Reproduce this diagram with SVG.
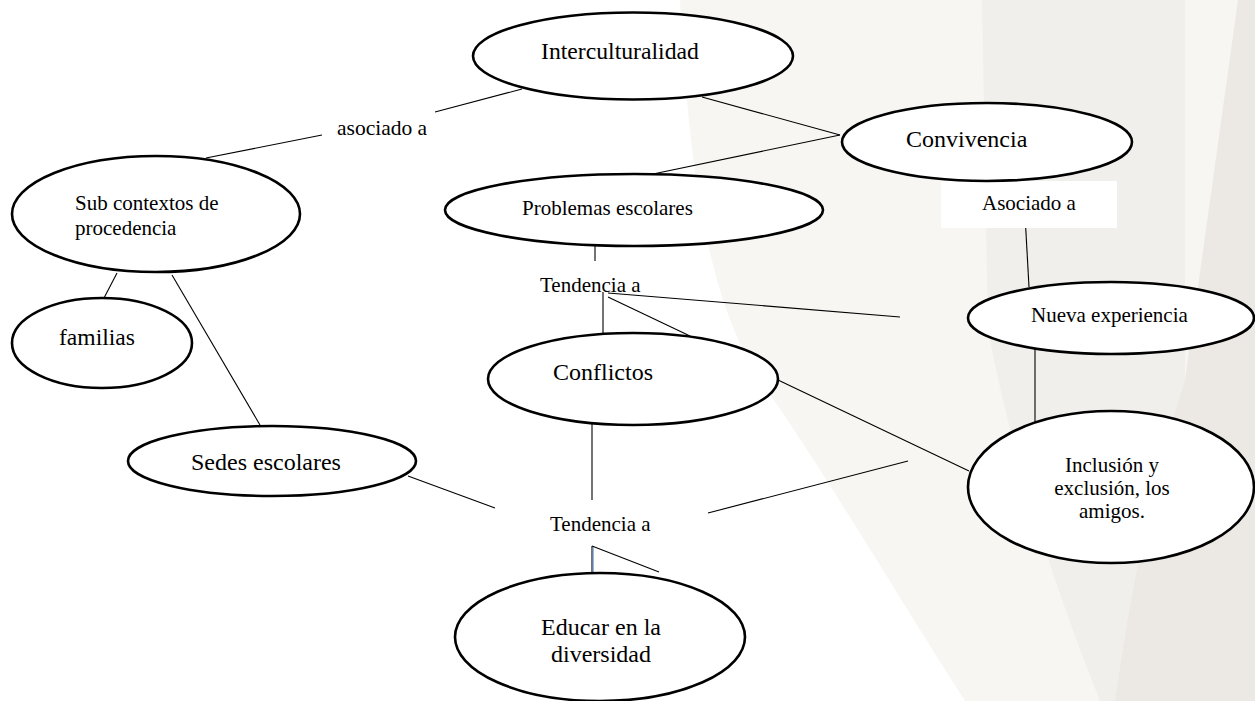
<svg xmlns="http://www.w3.org/2000/svg" width="1255" height="701" viewBox="0 0 1255 701">
<style>
.node ellipse{fill:#fff;stroke:#000;stroke-width:2.6}
text{font-family:'Liberation Serif',serif;fill:#000}
.s21{font-size:21px}
.s24{font-size:24px}
#connectors line{stroke:#000;stroke-width:1.1}
</style>
<g id="background">
<rect x="0" y="0" width="1255" height="701" fill="#ffffff"/>
<path d="M680,0 L1255,0 L1255,701 L965,701 C900,600 830,480 760,380 C715,310 690,200 680,0 Z" fill="#f7f6f3"/>
<path d="M982,0 L1185,0 L1185,380 Q1140,520 1115,701 L1100,701 Q1020,500 988,330 Z" fill="#f1efeb"/>
<path d="M1238,0 L1255,0 L1255,701 L1115,701 Q1140,520 1185,380 Z" fill="#ece9e4"/>
</g>
<g id="connectors">
<line x1="522" y1="89" x2="435" y2="112"/>
<line x1="322" y1="135" x2="206" y2="158"/>
<line x1="117" y1="273" x2="104" y2="298"/>
<line x1="172" y1="275" x2="260" y2="425"/>
<line x1="702" y1="97" x2="840" y2="135"/>
<line x1="840" y1="135" x2="653" y2="174"/>
<line x1="595" y1="246" x2="595" y2="261"/>
<line x1="603" y1="292" x2="603" y2="333"/>
<line x1="608" y1="297" x2="690" y2="336"/>
<line x1="608" y1="293" x2="900" y2="317"/>
<line x1="1025" y1="215" x2="1029" y2="287"/>
<line x1="1035" y1="348" x2="1035" y2="422"/>
<line x1="778" y1="380" x2="969" y2="471"/>
<line x1="592" y1="423" x2="592" y2="500"/>
<line x1="408" y1="476" x2="495" y2="508"/>
<line x1="708" y1="513" x2="908" y2="461"/>
<line x1="592" y1="546" x2="592" y2="573"/>
<line x1="593.2" y1="547" x2="593.2" y2="573" style="stroke:#5b8fd0;stroke-width:0.9"/>
<line x1="592" y1="546" x2="659" y2="572"/>
</g>
<g id="label-asociado">
<text class="s21" x="337" y="135" font-family="Liberation Serif" style="font-size:21.5px">asociado a</text>
</g>
<g id="node-asociado2">
<rect x="941" y="181" width="176" height="47" fill="#ffffff"/>
<text class="s21" x="982" y="210">Asociado a</text>
</g>
<g id="label-tendencia1">
<text class="s21" x="540" y="292">Tendencia a</text>
</g>
<g id="label-tendencia2">
<text class="s21" x="550" y="531">Tendencia a</text>
</g>
<g id="node-interculturalidad" class="node">
<ellipse cx="633" cy="56" rx="160" ry="43.5"/>
<text class="s24" x="541" y="59" style="font-size:23.7px">Interculturalidad</text>
</g>
<g id="node-subcontextos" class="node">
<ellipse cx="156" cy="214" rx="144" ry="58"/>
<text class="s21" x="75" y="210">Sub contextos de</text>
<text class="s21" x="75" y="235">procedencia</text>
</g>
<g id="node-familias" class="node">
<ellipse cx="102" cy="343" rx="90" ry="45"/>
<text class="s24" x="59" y="345" style="font-size:23.6px">familias</text>
</g>
<g id="node-problemas" class="node">
<ellipse cx="634" cy="210" rx="189" ry="36"/>
<text class="s21" x="522" y="215">Problemas escolares</text>
</g>
<g id="node-convivencia" class="node">
<ellipse cx="987" cy="142" rx="145" ry="39"/>
<text class="s24" x="906" y="147">Convivencia</text>
</g>
<g id="node-nueva" class="node">
<ellipse cx="1111" cy="318" rx="143" ry="36"/>
<text class="s21" x="1031" y="322">Nueva experiencia</text>
</g>
<g id="node-conflictos" class="node">
<ellipse cx="633" cy="379" rx="145" ry="46"/>
<text class="s24" x="553" y="380">Conflictos</text>
</g>
<g id="node-sedes" class="node">
<ellipse cx="272" cy="461" rx="144" ry="35"/>
<text class="s24" x="191" y="470">Sedes escolares</text>
</g>
<g id="node-inclusion" class="node">
<ellipse cx="1111" cy="487" rx="143" ry="76"/>
<text class="s21" x="1112" y="472" text-anchor="middle">Inclusión y</text>
<text class="s21" x="1112" y="495" text-anchor="middle">exclusión, los</text>
<text class="s21" x="1112" y="518" text-anchor="middle">amigos.</text>
</g>
<g id="node-educar" class="node">
<ellipse cx="600" cy="637" rx="145" ry="64"/>
<text class="s24" x="601" y="635" text-anchor="middle">Educar en la</text>
<text class="s24" x="601" y="662" text-anchor="middle">diversidad</text>
</g>
</svg>
